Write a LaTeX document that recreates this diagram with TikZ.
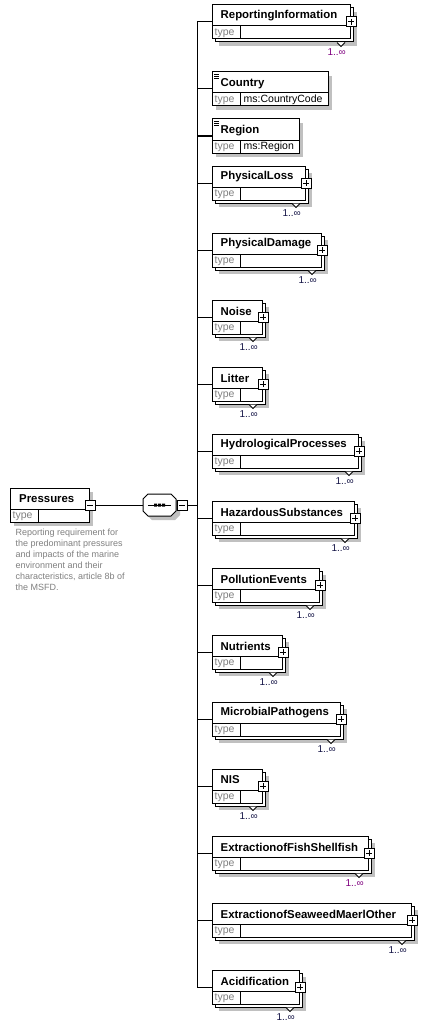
\documentclass[tikz,border=0pt]{standalone}
\usepackage{fontspec}
\setmainfont{Liberation Sans}
\definecolor{shadowgray}{RGB}{192,192,192}
\definecolor{typegray}{RGB}{128,128,128}
\definecolor{multpurple}{RGB}{128,0,128}
\definecolor{multnavy}{RGB}{20,20,70}
\tikzset{
  boxline/.style={draw=black, line width=1pt},
  elbox/.style={draw=black, line width=1pt, fill=white, anchor=north west, minimum height=34pt, inner sep=0pt, outer sep=0pt},
  elname/.style={anchor=west, inner sep=0pt, font=\fontsize{11.4}{13}\selectfont\bfseries},
  typelbl/.style={anchor=west, inner sep=0pt, text=typegray, font=\fontsize{10.5}{12}\selectfont},
  typeval/.style={anchor=west, inner sep=0pt, font=\fontsize{10.5}{12}\selectfont},
  multlbl/.style={anchor=east, inner sep=0pt, font=\fontsize{10}{12}\selectfont},
  plusbox/.style={draw=black, fill=white, line width=1pt, minimum size=10pt, inner sep=0pt, outer sep=0pt,
    path picture={\draw[line width=1pt] ([xshift=2pt]path picture bounding box.west) -- ([xshift=-2pt]path picture bounding box.east)
      ([yshift=-2pt]path picture bounding box.north) -- ([yshift=2pt]path picture bounding box.south);}},
  minusbox/.style={draw=black, fill=white, line width=1pt, minimum size=10pt, inner sep=0pt, outer sep=0pt,
    path picture={\draw[line width=1pt] ([xshift=2pt]path picture bounding box.west) -- ([xshift=-2pt]path picture bounding box.east);}},
  desc/.style={anchor=north west, inner sep=0pt, align=left, text=typegray, font=\fontsize{9}{11}\selectfont},
}
% stacked element (with 1..unbounded)
\newcommand\stackel[5]{%
  \pgfmathsetmacro\T{#2}\pgfmathsetmacro\R{#3}%
  \fill[shadowgray] (219,\T+7) rectangle (\R+7,\T+41);
  \draw[boxline, fill=white] (215,\T+3) rectangle (\R+3,\T+37);
  \node[elbox, minimum width={(#3-212)*1pt}] (#1) at (212,\T) {};
  \draw[boxline] (212,\T+21) -- (\R,\T+21) (240,\T+21) -- (240,\T+34);
  \node[elname] at (220.5,\T+11) {#4};
  \node[typelbl] at (214.5,\T+28) {type};
  \node[plusbox] at (\R+1,\T+17) {};
  \draw[boxline, fill=white] (\R-13,\T+37.5) -- (\R-9,\T+41.5) -- (\R-5,\T+37.5);
  \node[multlbl, text=#5] at (\R-4,\T+47) {1..∞};
  \coordinate (t#1) at (197,\T+17);
  \draw[boxline] (t#1) -- (#1.west);
}
% simple element with type
\newcommand\simpleel[5]{%
  \pgfmathsetmacro\T{#2}\pgfmathsetmacro\R{#3}%
  \fill[shadowgray] (216,\T+4) rectangle (\R+4,\T+38);
  \node[elbox, minimum width={(#3-212)*1pt}] (#1) at (212,\T) {};
  \draw[boxline] (212,\T+21) -- (\R,\T+21) (240,\T+21) -- (240,\T+34);
  \draw[line width=0.8pt] (214,\T+2.5) -- (219,\T+2.5) (214,\T+4.5) -- (219,\T+4.5) (214,\T+6.5) -- (219,\T+6.5);
  \node[elname] at (220.5,\T+12) {#4};
  \node[typelbl] at (214.5,\T+28) {type};
  \node[typeval] at (243.5,\T+28) {#5};
  \coordinate (t#1) at (197,\T+17);
  \draw[boxline] (t#1) -- (#1.west);
}
\begin{document}
\begin{tikzpicture}[x=1pt, y=-1pt]
\useasboundingbox[fill=white] (0,0) rectangle (429,1030);

% root element
\fill[shadowgray] (14,492) rectangle (93,526);
\node[elbox, minimum width=79pt] (P) at (10,488) {};
\draw[boxline] (10,509) -- (89,509) (38,509) -- (38,522);
\node[elname] at (19,499) {Pressures};
\node[typelbl] at (12.5,516) {type};
\node[minusbox] (Pm) at (90,505) {};
\node[desc] (Pdesc) at (15.5,528.5) {Reporting requirement for\\the predominant pressures\\and impacts of the marine\\environment and their\\characteristics, article 8b of\\the MSFD.};

% sequence compositor
\fill[shadowgray] (152,498) -- (175,498) -- (180,503) -- (180,515) -- (175,520) -- (152,520) -- (147,515) -- (147,503) -- cycle;
\node[inner sep=0pt, outer sep=0pt, minimum width=33pt, minimum height=22pt] (seq) at (159.5,505) {};
\draw[boxline, fill=white] (148,494) -- (171,494) -- (176,499) -- (176,511) -- (171,516) -- (148,516) -- (143,511) -- (143,499) -- cycle;
\draw[line width=1pt] (148,505) -- (171,505);
\fill (154,503.5) rectangle (157,506.5) (158,503.5) rectangle (161,506.5) (162,503.5) rectangle (165,506.5);
\node[minusbox] (seqm) at (182,505) {};
\coordinate (tseq) at (197,505);
\draw[boxline] (Pm.east) -- (seq.west);
\draw[boxline] (seqm.east) -- (tseq);

% children
\stackel{RI}{5}{350}{ReportingInformation}{multpurple}
\simpleel{CO}{72}{328}{Country}{ms:CountryCode}
\simpleel{RE}{119}{299}{Region}{ms:Region}
\stackel{PL}{166}{305}{PhysicalLoss}{multnavy}
\stackel{PD}{233}{321}{PhysicalDamage}{multnavy}
\stackel{NO}{300}{262}{Noise}{multnavy}
\stackel{LI}{367}{262}{Litter}{multnavy}
\stackel{HP}{434}{358}{HydrologicalProcesses}{multnavy}
\stackel{HS}{501}{354}{HazardousSubstances}{multnavy}
\stackel{PE}{568}{319}{PollutionEvents}{multnavy}
\stackel{NU}{635}{282}{Nutrients}{multnavy}
\stackel{MP}{702}{340}{MicrobialPathogens}{multnavy}
\stackel{NI}{769}{262}{NIS}{multnavy}
\stackel{EF}{836}{368}{ExtractionofFishShellfish}{multpurple}
\stackel{ES}{903}{411}{ExtractionofSeaweedMaerlOther}{multnavy}
\stackel{AC}{970}{299}{Acidification}{multnavy}

% trunk
\draw[boxline] (tRI) -- (tAC);
\end{tikzpicture}
\end{document}
